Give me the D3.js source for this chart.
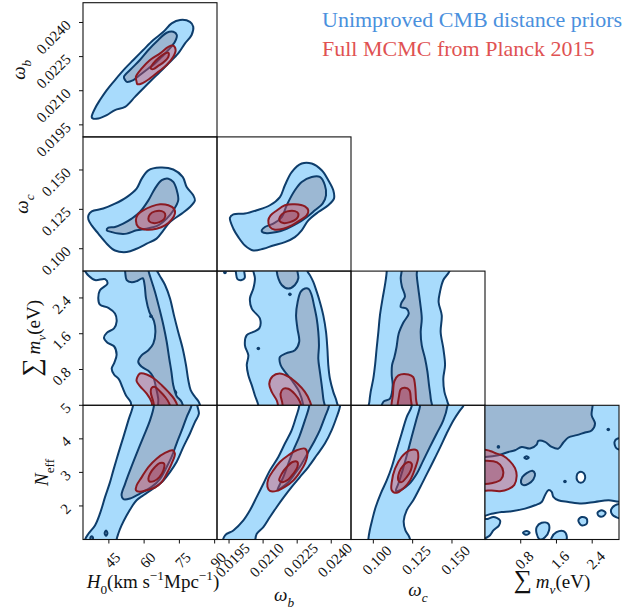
<!DOCTYPE html>
<html><head><meta charset="utf-8">
<script src="https://cdn.jsdelivr.net/npm/d3@7"></script>
<style>body{margin:0;background:#fff}svg{display:block}</style>
</head><body><svg id="c" width="626" height="609"></svg>
<script>
// ---------- parameter ranges and ticks ----------
const domH0 = [34, 91], domOb = [0.01897, 0.02487], domOc = [0.0858, 0.1710], domMnu = [0, 3], domNeff = [1, 5];
const ticksH0 = [45, 60, 75, 90];
const ticksOb = [0.0195, 0.0210, 0.0225, 0.0240];
const ticksOc = [0.100, 0.125, 0.150];
const ticksMnu = [0.8, 1.6, 2.4];
const ticksNeff = [2, 3, 4, 5];

// ---------- contour outlines (data units) ----------
// H0 vs omega_b
const h0_ob_b1 = [[37.7,0.01985],[39.1,0.02022],[41.2,0.02059],[44.1,0.02103],[47.6,0.02147],[51.9,0.02198],[55.4,0.02235],[59.6,0.02279],[63.9,0.02323],[68.2,0.02359],[71.7,0.02396],[75.3,0.02411],[79.5,0.02403],[80.9,0.02381],[80.2,0.02345],[77.4,0.02308],[74.5,0.02264],[70.3,0.02220],[66.8,0.02183],[63.2,0.02147],[59.6,0.02110],[56.1,0.02073],[51.9,0.02029],[47.6,0.02015],[44.1,0.01993],[40.5,0.01978],[38.1,0.01978]];
const h0_ob_b2 = [[51.9,0.02147],[51.4,0.02161],[54.7,0.02198],[58.2,0.02235],[61.8,0.02279],[66.0,0.02323],[69.6,0.02355],[72.4,0.02359],[73.9,0.02345],[73.1,0.02315],[70.3,0.02279],[67.5,0.02249],[64.6,0.02220],[61.8,0.02198],[58.2,0.02169],[55.4,0.02147],[52.6,0.02139]];
const h0_ob_r1 = [[56.8,0.02139],[56.5,0.02161],[59.0,0.02198],[62.5,0.02235],[66.8,0.02264],[70.3,0.02293],[72.4,0.02298],[73.4,0.02279],[72.4,0.02249],[69.6,0.02213],[66.0,0.02183],[62.5,0.02154],[59.0,0.02132],[57.1,0.02129]];
const h0_ob_r2 = [[62.8,0.02198],[63.9,0.02220],[66.5,0.02247],[68.9,0.02264],[70.3,0.02267],[70.3,0.02249],[68.5,0.02227],[66.0,0.02209],[63.9,0.02195]];

// H0 vs omega_c
const h0_oc_b1 = [[36.3,0.1212],[37.7,0.1237],[42.6,0.1255],[47.6,0.1286],[52.6,0.1328],[56.8,0.1382],[59.0,0.1445],[61.8,0.1498],[66.8,0.1515],[72.4,0.1503],[76.4,0.1456],[78.1,0.1392],[80.9,0.1339],[81.6,0.1307],[79.5,0.1265],[76.0,0.1223],[71.0,0.1169],[68.2,0.1117],[65.3,0.1064],[61.1,0.1032],[56.8,0.1000],[52.6,0.0979],[47.6,0.0989],[44.1,0.1032],[40.5,0.1096],[37.7,0.1148],[36.3,0.1185]];
const h0_oc_b2 = [[44.1,0.1117],[44.8,0.1134],[47.6,0.1138],[51.1,0.1159],[54.7,0.1191],[58.2,0.1233],[61.8,0.1307],[64.6,0.1382],[67.5,0.1435],[70.3,0.1445],[72.4,0.1424],[73.9,0.1371],[74.5,0.1307],[72.4,0.1243],[69.6,0.1191],[66.0,0.1148],[61.1,0.1127],[56.8,0.1117],[52.6,0.1096],[49.1,0.1096],[46.2,0.1106]];
const h0_oc_r1 = [[56.5,0.1180],[57.1,0.1212],[59.6,0.1243],[63.2,0.1269],[66.8,0.1282],[70.3,0.1276],[72.7,0.1255],[73.1,0.1223],[71.7,0.1185],[68.9,0.1148],[65.3,0.1127],[61.1,0.1121],[57.5,0.1138]];
const h0_oc_r2 = [[61.8,0.1191],[62.5,0.1218],[64.6,0.1237],[67.5,0.1239],[68.9,0.1223],[68.6,0.1191],[66.5,0.1169],[63.9,0.1163],[62.2,0.1174]];

// omega_b vs omega_c
const ob_oc_b1 = [[0.01954,0.1197],[0.01969,0.1218],[0.02020,0.1223],[0.02072,0.1244],[0.02130,0.1276],[0.02174,0.1328],[0.02196,0.1403],[0.02226,0.1487],[0.02270,0.1541],[0.02314,0.1541],[0.02358,0.1498],[0.02387,0.1435],[0.02409,0.1371],[0.02412,0.1318],[0.02387,0.1276],[0.02343,0.1233],[0.02299,0.1180],[0.02270,0.1117],[0.02240,0.1074],[0.02196,0.1042],[0.02145,0.1021],[0.02101,0.1000],[0.02057,0.0989],[0.02020,0.1021],[0.01991,0.1074],[0.01969,0.1127]];
const ob_oc_b2 = [[0.02094,0.1117],[0.02108,0.1138],[0.02145,0.1159],[0.02182,0.1201],[0.02204,0.1276],[0.02240,0.1371],[0.02270,0.1424],[0.02314,0.1456],[0.02350,0.1456],[0.02372,0.1403],[0.02377,0.1339],[0.02362,0.1286],[0.02328,0.1244],[0.02292,0.1201],[0.02248,0.1159],[0.02204,0.1127],[0.02160,0.1106],[0.02116,0.1099],[0.02096,0.1106]];
const ob_oc_r1 = [[0.02123,0.1180],[0.02133,0.1212],[0.02160,0.1243],[0.02196,0.1276],[0.02240,0.1282],[0.02284,0.1269],[0.02299,0.1243],[0.02292,0.1212],[0.02262,0.1180],[0.02226,0.1148],[0.02189,0.1127],[0.02152,0.1121],[0.02130,0.1138]];
const ob_oc_r2 = [[0.02171,0.1191],[0.02182,0.1218],[0.02206,0.1237],[0.02240,0.1239],[0.02255,0.1223],[0.02248,0.1191],[0.02218,0.1169],[0.02189,0.1163],[0.02174,0.1174]];

// H0 vs sum m_nu
const h0_mnu_b1 = [[33.0,3.2],[34.9,3.0],[36.3,2.90],[39.1,2.80],[43.4,2.82],[44.4,2.72],[41.2,2.57],[40.5,2.39],[41.2,2.25],[44.8,2.18],[47.6,2.05],[48.3,1.87],[47.2,1.72],[44.1,1.62],[42.9,1.51],[44.4,1.40],[47.2,1.32],[48.3,1.13],[47.3,0.95],[46.2,0.82],[47.2,0.69],[49.3,0.58],[50.7,0.41],[52.3,0.22],[54.3,0.07],[55.3,-0.2],[84.0,-0.2],[83.3,0.07],[81.6,0.19],[79.8,0.34],[78.8,0.56],[77.8,0.90],[76.4,1.27],[74.5,1.64],[72.7,2.01],[71.0,2.39],[68.9,2.69],[66.5,2.91],[65.0,3.06],[64.6,3.2]];
const h0_mnu_b2 = [[51.4,3.2],[51.9,3.0],[52.6,2.80],[54.7,2.75],[57.1,2.78],[59.4,2.84],[60.2,2.69],[60.8,2.39],[62.2,2.09],[64.2,1.88],[64.8,1.64],[63.9,1.38],[61.8,1.23],[59.0,1.12],[57.5,0.97],[59.0,0.86],[61.8,0.77],[63.9,0.63],[65.0,0.41],[66.0,0.15],[66.5,-0.2],[76.4,-0.2],[76.0,0.07],[73.8,0.21],[72.4,0.45],[71.6,0.75],[70.7,1.04],[69.6,1.42],[68.2,1.79],[66.5,2.16],[64.6,2.54],[62.8,2.84],[61.9,3.0],[61.6,3.2]];
const h0_mnu_ring = [[71.1,0.28],[72.4,0.35],[73.7,0.28],[72.4,0.21]];
const h0_mnu_dots = [[62.9,1.99]];
const h0_mnu_r1 = [[57.1,0.63],[58.2,0.71],[61.1,0.69],[64.2,0.60],[67.5,0.45],[70.3,0.30],[72.7,0.15],[74.1,0.0],[74.5,-0.2],[63.9,-0.2],[63.2,0.07],[61.1,0.26],[58.2,0.43],[56.8,0.54]];
const h0_mnu_r2 = [[62.8,0.30],[63.2,0.39],[64.6,0.41],[66.8,0.31],[68.9,0.19],[70.7,0.04],[71.3,-0.2],[65.3,-0.2],[63.9,0.08]];

// H0 vs N_eff
const h0_neff_b1 = [[55.4,5.3],[55.3,5.0],[53.3,4.55],[51.2,4.06],[49.0,3.56],[46.9,3.06],[45.5,2.71],[43.4,2.27],[41.2,1.77],[39.1,1.42],[36.3,1.17],[34.9,1.0],[34.6,0.75],[48.0,0.75],[48.3,1.0],[49.0,1.17],[50.4,1.42],[52.6,1.72],[54.7,1.97],[56.8,2.17],[59.7,2.32],[63.9,2.52],[68.2,2.76],[71.0,3.01],[73.8,3.31],[76.7,3.76],[79.5,4.16],[81.6,4.50],[83.3,4.75],[82.6,5.0],[82.3,5.3]];
const h0_neff_b2 = [[64.2,5.3],[64.2,5.0],[62.5,4.55],[59.7,4.06],[56.8,3.56],[54.0,3.06],[51.9,2.66],[50.4,2.32],[51.2,2.20],[54.0,2.22],[58.2,2.37],[63.2,2.57],[66.8,2.81],[69.6,3.16],[71.7,3.46],[73.8,3.86],[76.0,4.25],[78.1,4.65],[80.2,5.0],[80.5,5.3]];
const h0_neff_isl = [[[43.2,1.19],[43.8,1.27],[44.4,1.19],[43.8,1.11]],[[37.1,1.04],[37.7,1.10],[38.3,1.04],[37.7,0.98]]];
const h0_neff_r1 = [[56.5,2.47],[56.8,2.61],[59.0,2.86],[61.8,3.16],[65.3,3.41],[68.9,3.58],[72.1,3.66],[73.1,3.56],[71.7,3.26],[69.6,2.96],[67.5,2.71],[64.6,2.55],[61.1,2.47],[58.2,2.42]];
const h0_neff_r2 = [[61.8,2.81],[62.5,2.96],[64.6,3.16],[66.8,3.28],[68.5,3.26],[68.2,3.06],[66.5,2.86],[64.2,2.74],[62.2,2.73]];

// omega_b vs sum m_nu
const ob_mnu_b1 = [[0.02054,3.2],[0.02057,3.0],[0.02064,2.84],[0.02057,2.61],[0.02042,2.39],[0.02050,2.16],[0.02086,1.94],[0.02083,1.72],[0.02057,1.64],[0.02028,1.57],[0.02020,1.34],[0.02035,1.12],[0.02028,0.90],[0.02035,0.67],[0.02050,0.45],[0.02064,0.22],[0.02079,0.0],[0.02083,-0.2],[0.02431,-0.2],[0.02424,0.08],[0.02409,0.30],[0.02394,0.60],[0.02387,0.90],[0.02383,1.27],[0.02377,1.64],[0.02365,2.01],[0.02350,2.31],[0.02336,2.54],[0.02321,2.76],[0.02306,2.91],[0.02295,3.0],[0.02292,3.2]];
const ob_mnu_b1_top = [[0.01978,3.2],[0.01981,2.95],[0.01987,2.82],[0.02006,2.80],[0.02019,2.85],[0.02017,2.985],[0.02013,3.2]];
const ob_mnu_b2_top = [[0.02160,3.2],[0.02160,3.0],[0.02167,2.84],[0.02182,2.69],[0.02211,2.61],[0.02240,2.69],[0.02255,2.84],[0.02251,3.0],[0.02251,3.2]];
const ob_mnu_b2 = [[0.02284,2.61],[0.02266,2.54],[0.02252,2.31],[0.02245,2.01],[0.02251,1.72],[0.02259,1.42],[0.02240,1.23],[0.02201,1.16],[0.02174,1.08],[0.02177,0.90],[0.02196,0.75],[0.02226,0.56],[0.02259,0.30],[0.02277,0.0],[0.02280,-0.2],[0.02372,-0.2],[0.02365,0.15],[0.02358,0.45],[0.02350,0.75],[0.02343,1.04],[0.02346,1.34],[0.02343,1.64],[0.02336,1.94],[0.02324,2.24],[0.02314,2.46],[0.02301,2.60]];
const ob_mnu_dots = [[0.01932,2.97],[0.02218,2.48],[0.02079,1.27]];
const ob_mnu_r1 = [[0.02127,0.48],[0.02142,0.65],[0.02172,0.71],[0.02215,0.63],[0.02252,0.48],[0.02284,0.30],[0.02306,0.09],[0.02315,-0.2],[0.02182,-0.2],[0.02160,0.11],[0.02138,0.30]];
const ob_mnu_r2 = [[0.02177,0.26],[0.02189,0.37],[0.02211,0.37],[0.02240,0.25],[0.02262,0.08],[0.02271,-0.2],[0.02201,-0.2],[0.02183,0.09]];

// omega_c vs sum m_nu
const oc_mnu_b1 = [[0.1081,3.2],[0.1085,3.0],[0.1074,2.69],[0.1059,2.39],[0.1042,2.01],[0.1032,1.64],[0.1021,1.27],[0.1011,0.90],[0.1000,0.60],[0.0983,0.30],[0.0975,0.08],[0.0970,-0.2],[0.1488,-0.2],[0.1471,0.08],[0.1452,0.30],[0.1445,0.60],[0.1456,0.90],[0.1445,1.27],[0.1428,1.64],[0.1435,2.01],[0.1415,2.31],[0.1424,2.54],[0.1445,2.80],[0.1484,3.0],[0.1488,3.2]];
const oc_mnu_b2 = [[0.1180,3.2],[0.1180,3.0],[0.1174,2.84],[0.1182,2.65],[0.1201,2.43],[0.1180,2.30],[0.1174,2.20],[0.1212,2.16],[0.1225,2.05],[0.1191,1.85],[0.1161,1.60],[0.1148,1.31],[0.1134,1.08],[0.1119,0.90],[0.1117,0.67],[0.1123,0.45],[0.1106,0.15],[0.1064,0.08],[0.1053,-0.2],[0.1371,-0.2],[0.1365,0.15],[0.1354,0.45],[0.1344,0.75],[0.1329,1.04],[0.1308,1.34],[0.1301,1.64],[0.1308,1.94],[0.1297,2.31],[0.1286,2.61],[0.1276,2.91],[0.1276,3.2]];
const oc_mnu_r1 = [[0.1123,-0.2],[0.1125,0.26],[0.1134,0.54],[0.1159,0.67],[0.1223,0.69],[0.1254,0.63],[0.1265,0.45],[0.1271,0.15],[0.1276,-0.2]];
const oc_mnu_r2 = [[0.1159,-0.2],[0.1164,0.22],[0.1174,0.36],[0.1201,0.39],[0.1229,0.34],[0.1238,0.15],[0.1240,-0.2]];

// omega_b vs N_eff
const ob_neff_b1 = [[0.02256,5.3],[0.02259,4.98],[0.02245,4.65],[0.02226,4.26],[0.02196,3.86],[0.02167,3.46],[0.02130,3.06],[0.02101,2.66],[0.02072,2.27],[0.02042,1.87],[0.02013,1.57],[0.01969,1.27],[0.01932,1.12],[0.01922,0.75],[0.02052,0.75],[0.02072,1.17],[0.02101,1.37],[0.02130,1.67],[0.02160,1.97],[0.02192,2.27],[0.02226,2.57],[0.02262,2.86],[0.02299,3.16],[0.02336,3.51],[0.02372,3.86],[0.02402,4.26],[0.02424,4.65],[0.02438,4.95],[0.02441,5.3]];
const ob_neff_b2 = [[0.02306,5.3],[0.02303,4.98],[0.02284,4.55],[0.02259,4.06],[0.02233,3.66],[0.02211,3.26],[0.02189,2.86],[0.02170,2.59],[0.02163,2.47],[0.02182,2.55],[0.02211,2.71],[0.02240,2.96],[0.02270,3.26],[0.02299,3.61],[0.02328,3.96],[0.02350,4.26],[0.02372,4.65],[0.02390,4.98],[0.02390,5.3]];
const ob_neff_r1 = [[0.02119,2.57],[0.02123,2.81],[0.02145,3.06],[0.02174,3.31],[0.02211,3.51],[0.02248,3.66],[0.02284,3.71],[0.02295,3.56],[0.02284,3.26],[0.02262,3.01],[0.02233,2.76],[0.02196,2.57],[0.02160,2.45],[0.02130,2.45]];
const ob_neff_r2 = [[0.02171,2.76],[0.02182,2.96],[0.02204,3.16],[0.02230,3.31],[0.02251,3.31],[0.02251,3.16],[0.02233,2.96],[0.02211,2.79],[0.02186,2.71]];

// omega_c vs N_eff
const oc_neff_b1 = [[0.1238,5.3],[0.1244,4.98],[0.1212,4.65],[0.1180,4.16],[0.1148,3.66],[0.1117,3.16],[0.1085,2.76],[0.1047,2.37],[0.1015,1.97],[0.0992,1.57],[0.0977,1.27],[0.0968,1.00],[0.0966,0.75],[0.1235,0.75],[0.1229,1.07],[0.1204,1.27],[0.1193,1.55],[0.1212,1.87],[0.1254,2.17],[0.1297,2.55],[0.1339,2.94],[0.1382,3.34],[0.1424,3.74],[0.1466,4.16],[0.1509,4.55],[0.1551,4.85],[0.1572,4.98],[0.1579,5.3]];
const oc_neff_b2 = [[0.1301,5.3],[0.1297,4.98],[0.1272,4.55],[0.1244,4.06],[0.1216,3.56],[0.1186,3.06],[0.1159,2.66],[0.1144,2.45],[0.1180,2.49],[0.1229,2.66],[0.1276,2.96],[0.1318,3.36],[0.1360,3.76],[0.1403,4.16],[0.1445,4.55],[0.1471,4.98],[0.1473,5.3]];
const oc_neff_r1 = [[0.1117,2.47],[0.1117,2.71],[0.1138,3.11],[0.1180,3.46],[0.1233,3.66],[0.1276,3.66],[0.1286,3.46],[0.1265,3.11],[0.1233,2.76],[0.1191,2.52],[0.1148,2.39]];
const oc_neff_r2 = [[0.1159,2.76],[0.1165,3.01],[0.1191,3.21],[0.1223,3.31],[0.1244,3.26],[0.1238,3.06],[0.1212,2.86],[0.1180,2.71]];

// sum m_nu vs N_eff
const mnu_neff_b1 = [[-0.1,5.2],[3.1,5.2],[3.1,2.17],[2.761,2.17],[2.463,2.12],[2.164,2.07],[1.866,2.12],[1.642,2.17],[1.530,2.27],[1.493,2.42],[1.418,2.47],[1.343,2.32],[1.269,2.12],[1.119,2.02],[0.896,1.92],[0.597,1.84],[0.373,1.82],[0.149,1.77],[-0.1,1.72]];
const mnu_neff_holes = [[[2.052,2.89],[2.090,2.99],[2.179,3.01],[2.239,2.91],[2.224,2.76],[2.142,2.69],[2.067,2.76]]];
const mnu_neff_isl = [
  [[-0.1,1.57],[0.075,1.62],[0.187,1.67],[0.336,1.57],[0.313,1.42],[0.187,1.27],[0.090,1.10],[-0.1,1.03]],
  [[1.157,1.37],[1.269,1.50],[1.418,1.47],[1.433,1.27],[1.343,1.07],[1.231,1.00],[1.157,1.17]],
  [[2.090,1.57],[2.164,1.67],[2.276,1.62],[2.276,1.47],[2.164,1.42]],
  [[2.52,1.80],[2.61,1.87],[2.70,1.80],[2.65,1.70],[2.55,1.70]],
  [[2.82,1.87],[2.91,2.02],[3.1,2.04],[3.1,1.62],[2.93,1.67],[2.85,1.74]],
  [[0.85,1.20],[0.93,1.25],[1.0,1.20],[0.93,1.14]],
  [[1.49,1.05],[1.60,1.22],[1.76,1.25],[1.83,1.10],[1.80,0.95],[1.49,0.95]],
  [[0.15,4.26],[0.25,4.32],[0.34,4.26],[0.25,4.19]],
  [[0.88,3.44],[0.93,3.48],[0.98,3.44],[0.93,3.40]],
  [[2.90,3.91],[2.97,4.01],[3.1,3.99],[3.1,3.69],[2.95,3.71]]
];
const mnu_neff_b2 = [[-0.1,5.2],[2.373,5.2],[2.388,4.70],[2.463,4.45],[2.388,4.25],[2.239,4.19],[2.052,4.11],[1.866,4.04],[1.754,3.89],[1.642,3.71],[1.493,3.76],[1.343,3.91],[1.194,3.94],[1.157,3.83],[1.008,3.71],[0.821,3.76],[0.672,3.66],[0.522,3.61],[0.299,3.51],[0,3.46],[-0.1,3.46]];
const mnu_neff_b2_isl = [[[0.806,2.69],[0.836,2.86],[0.933,2.98],[1.060,3.05],[1.119,2.96],[1.082,2.79],[0.970,2.66],[0.858,2.62]]];
const mnu_neff_dots = [[0.30,3.76],[2.76,4.28],[1.79,2.73]];
const mnu_neff_r1 = [[-0.1,3.66],[0.112,3.64],[0.261,3.56],[0.410,3.49],[0.560,3.33],[0.672,3.13],[0.709,2.89],[0.657,2.63],[0.522,2.50],[0.336,2.44],[0.149,2.46],[-0.1,2.50]];
const mnu_neff_r2 = [[-0.1,3.29],[0.187,3.33],[0.336,3.23],[0.410,3.01],[0.358,2.79],[0.187,2.69],[-0.1,2.69]];

// ---------- styling ----------
const LIGHT = "#a8dbfc", DARK = "#9cb8d3", NAVY = "#0e3d6b";
const RED1 = "rgba(214,78,100,0.42)", RED2 = "rgba(150,30,55,0.30)", REDL = "#8b1a22";
const FONT = "'Liberation Serif','DejaVu Serif',serif";

const L0 = 83, T0 = 2.7, CW = 134, CH = 134.2;
const colDom = [domH0, domOb, domOc, domMnu], rowDom = [domOb, domOc, domMnu, domNeff];
const colTicks = [ticksH0, ticksOb, ticksOc, ticksMnu], rowTicks = [ticksOb, ticksOc, ticksMnu, ticksNeff];
const colFmt = [d3.format("d"), d3.format(".4f"), d3.format(".3f"), d3.format(".1f")];
const rowFmt = [d3.format(".4f"), d3.format(".3f"), d3.format(".1f"), d3.format("d")];
const xScale = c => d3.scaleLinear().domain(colDom[c]).range([L0 + c * CW, L0 + (c + 1) * CW]);
const yScale = r => d3.scaleLinear().domain(rowDom[r]).range([T0 + (r + 1) * CH, T0 + r * CH]);

const panels = [
  {r:0,c:0, light:[h0_ob_b1], dark:[h0_ob_b2], red1:[h0_ob_r1], red2:[h0_ob_r2]},
  {r:1,c:0, light:[h0_oc_b1], dark:[h0_oc_b2], red1:[h0_oc_r1], red2:[h0_oc_r2]},
  {r:1,c:1, light:[ob_oc_b1], dark:[ob_oc_b2], red1:[ob_oc_r1], red2:[ob_oc_r2]},
  {r:2,c:0, light:[h0_mnu_b1], dark:[h0_mnu_b2], lightIsl:[h0_mnu_ring], dots:h0_mnu_dots, red1:[h0_mnu_r1], red2:[h0_mnu_r2]},
  {r:2,c:1, light:[ob_mnu_b1, ob_mnu_b1_top], dark:[ob_mnu_b2_top, ob_mnu_b2], dots:ob_mnu_dots, red1:[ob_mnu_r1], red2:[ob_mnu_r2]},
  {r:2,c:2, light:[oc_mnu_b1], dark:[oc_mnu_b2], red1:[oc_mnu_r1], red2:[oc_mnu_r2]},
  {r:3,c:0, light:[h0_neff_b1], dark:[h0_neff_b2], darkIsl:h0_neff_isl, red1:[h0_neff_r1], red2:[h0_neff_r2]},
  {r:3,c:1, light:[ob_neff_b1], dark:[ob_neff_b2], red1:[ob_neff_r1], red2:[ob_neff_r2]},
  {r:3,c:2, light:[oc_neff_b1], dark:[oc_neff_b2], red1:[oc_neff_r1], red2:[oc_neff_r2]},
  {r:3,c:3, light:[mnu_neff_b1], white:mnu_neff_holes, lightIsl:mnu_neff_isl, dark:[mnu_neff_b2], darkIsl:mnu_neff_b2_isl, dots:mnu_neff_dots, red1:[mnu_neff_r1], red2:[mnu_neff_r2]}
];

const svg = d3.select("#c");
const defs = svg.append("defs");

panels.forEach((p, i) => {
  const xs = xScale(p.c), ys = yScale(p.r);
  const x0 = xs.range()[0], y0 = ys.range()[1];
  defs.append("clipPath").attr("id", "clip" + i).append("rect")
    .attr("x", x0).attr("y", y0).attr("width", CW).attr("height", CH);
  const g = svg.append("g").attr("clip-path", `url(#clip${i})`);
  const line = d3.line().x(d => xs(d[0])).y(d => ys(d[1])).curve(d3.curveCatmullRomClosed.alpha(0.5));
  const draw = (arr, fill, stroke, sw) => (arr || []).forEach(pts =>
    g.append("path").attr("d", line(pts)).attr("fill", fill)
      .attr("stroke", stroke).attr("stroke-width", sw).attr("stroke-linejoin", "round"));
  draw(p.light, LIGHT, NAVY, 2);
  draw(p.white, "#fff", NAVY, 2);
  draw(p.lightIsl, LIGHT, NAVY, 2);
  draw(p.dark, DARK, NAVY, 2);
  draw(p.darkIsl, DARK, NAVY, 2);
  g.selectAll("circle.dot").data(p.dots || []).enter().append("circle")
    .attr("cx", d => xs(d[0])).attr("cy", d => ys(d[1])).attr("r", 1.8).attr("fill", NAVY);
  draw(p.red1, RED1, REDL, 2);
  draw(p.red2, RED2, REDL, 2);
  svg.append("rect").attr("x", x0).attr("y", y0).attr("width", CW).attr("height", CH)
    .attr("fill", "none").attr("stroke", "#111").attr("stroke-width", 1.1);
});

// y axes on the first column
for (let r = 0; r < 4; r++) {
  const ys = yScale(r);
  rowTicks[r].forEach(v => {
    const y = ys(v);
    svg.append("line").attr("x1", L0 - 4).attr("x2", L0).attr("y1", y).attr("y2", y)
      .attr("stroke", "#111").attr("stroke-width", 1);
    svg.append("text").attr("transform", `translate(${L0 - 15},${y}) rotate(-45)`)
      .attr("text-anchor", "end").attr("dy", "0.35em")
      .attr("font-family", FONT).attr("font-size", 15).attr("fill", "#111").text(rowFmt[r](v));
  });
}
// x axes on the bottom row
const yb = T0 + 4 * CH;
for (let c = 0; c < 4; c++) {
  const xs = xScale(c);
  colTicks[c].forEach(v => {
    const x = xs(v);
    svg.append("line").attr("x1", x).attr("x2", x).attr("y1", yb).attr("y2", yb + 4)
      .attr("stroke", "#111").attr("stroke-width", 1);
    svg.append("text").attr("transform", `translate(${x},${yb + 17}) rotate(-45)`)
      .attr("text-anchor", "middle").attr("dy", "0.68em")
      .attr("font-family", FONT).attr("font-size", 15).attr("fill", "#111").text(colFmt[c](v));
  });
}

// math-style labels built from tspans
function mathText(x, y, rot, parts, size) {
  const t = svg.append("text").attr("transform", `translate(${x},${y}) rotate(${rot})`)
    .attr("text-anchor", "middle").attr("font-family", FONT).attr("font-size", size).attr("fill", "#111");
  let shift = 0;
  parts.forEach(p => {
    const s = p.sub ? size * 0.32 : p.sup ? -size * 0.42 : 0;
    const fs = (p.sub || p.sup) ? size * 0.7 : (p.big ? size * 1.35 : size);
    t.append("tspan").attr("dy", s - shift).attr("font-size", fs)
      .attr("font-style", p.i ? "italic" : "normal").text(p.t);
    shift = s;
  });
  return t;
}
const AX = 19;
mathText(25, T0 + 0.5 * CH, -90, [{t:"ω", i:1}, {t:"b", i:1, sub:1}], AX);
mathText(28, T0 + 1.5 * CH, -90, [{t:"ω", i:1}, {t:"c", i:1, sub:1}], AX);
mathText(40, T0 + 2.5 * CH, -90, [{t:"∑", big:1}, {t:"\u2009m", i:1}, {t:"ν", i:1, sub:1}, {t:"(eV)"}], AX);
mathText(48, T0 + 3.5 * CH, -90, [{t:"N", i:1}, {t:"eff", sub:1}], AX);
mathText(L0 + 0.5 * CW + 3, 588, 0, [{t:"H", i:1}, {t:"0", sub:1}, {t:"(km s"}, {t:"−1", sup:1}, {t:"Mpc"}, {t:"−1", sup:1}, {t:")"}], AX);
mathText(L0 + 1.5 * CW, 601, 0, [{t:"ω", i:1}, {t:"b", i:1, sub:1}], AX);
mathText(L0 + 2.5 * CW, 596, 0, [{t:"ω", i:1}, {t:"c", i:1, sub:1}], AX);
mathText(L0 + 3.5 * CW, 588, 0, [{t:"∑", big:1}, {t:"\u2009m", i:1}, {t:"ν", i:1, sub:1}, {t:"(eV)"}], AX);

// legend
svg.append("text").attr("x", 322).attr("y", 27).attr("font-family", FONT).attr("font-size", 22)
  .attr("fill", "#4a90dd").text("Unimproved CMB distance priors");
svg.append("text").attr("x", 322).attr("y", 56).attr("font-family", FONT).attr("font-size", 22)
  .attr("fill", "#e05252").text("Full MCMC from Planck 2015");
</script></body></html>
